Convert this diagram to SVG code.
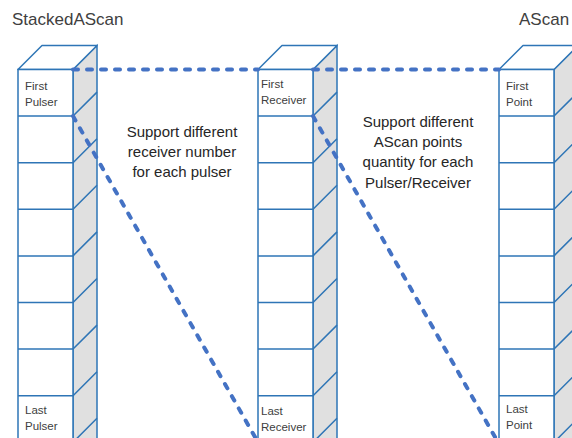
<svg xmlns="http://www.w3.org/2000/svg" width="572" height="438" viewBox="0 0 572 438">
<style>
text{font-family:"Liberation Sans",Arial,sans-serif;fill:#333}
.t{font-size:17px;fill:#404040}
.c{font-size:11.5px;fill:#404040}
.n{font-size:15px;text-anchor:middle;fill:#262626}
.side{fill:#e0e0e0;stroke:#2e75b6;stroke-width:1.5}
.top{fill:#fff;stroke:#2e75b6;stroke-width:1.5;stroke-linejoin:round}
.f{fill:#fff;stroke:#2e75b6;stroke-width:1.5}
.l{stroke:#2e75b6;stroke-width:1.5;fill:none}
.d{stroke:#4472c4;stroke-width:4;stroke-dasharray:5 9;stroke-linecap:round;fill:none}
</style>
<rect width="572" height="438" fill="#fff"/>
<text class="t" x="12" y="25">StackedAScan</text>
<text class="t" x="519" y="25">AScan</text>

<g id="stack-pulser">
<polygon class="side" points="73,69.5 97,45.5 97,460 73,460"/>
<polygon class="top" points="18,69.5 42,45.5 97,45.5 73,69.5"/>
<rect class="f" x="18" y="69.5" width="55" height="400"/>
<path class="l" d="M18,116.1H73L97,92.1M18,162.7H73L97,138.7M18,209.3H73L97,185.3M18,255.9H73L97,231.9M18,302.5H73L97,278.5M18,349.1H73L97,325.1M18,395.7H73L97,371.7M73,442.3L97,418.3"/>
<text class="c" x="25" y="90">First</text>
<text class="c" x="25" y="106">Pulser</text>
<text class="c" x="25" y="414">Last</text>
<text class="c" x="25" y="430">Pulser</text>
</g>

<g id="stack-receiver">
<polygon class="side" points="313,69.5 337,45.5 337,460 313,460"/>
<polygon class="top" points="258,69.5 282,45.5 337,45.5 313,69.5"/>
<rect class="f" x="258" y="69.5" width="55" height="400"/>
<path class="l" d="M258,116.1H313L337,92.1M258,162.7H313L337,138.7M258,209.3H313L337,185.3M258,255.9H313L337,231.9M258,302.5H313L337,278.5M258,349.1H313L337,325.1M258,395.7H313L337,371.7M313,442.3L337,418.3"/>
<text class="c" x="261" y="88">First</text>
<text class="c" x="261" y="104">Receiver</text>
<text class="c" x="261" y="415">Last</text>
<text class="c" x="261" y="431">Receiver</text>
</g>

<g id="stack-point">
<polygon class="side" points="554,69.5 578,45.5 578,460 554,460"/>
<polygon class="top" points="499,69.5 523,45.5 578,45.5 554,69.5"/>
<rect class="f" x="499" y="69.5" width="55" height="400"/>
<path class="l" d="M499,116.1H554L578,92.1M499,162.7H554L578,138.7M499,209.3H554L578,185.3M499,255.9H554L578,231.9M499,302.5H554L578,278.5M499,349.1H554L578,325.1M499,395.7H554L578,371.7M554,442.3L578,418.3"/>
<text class="c" x="506" y="90">First</text>
<text class="c" x="506" y="106">Point</text>
<text class="c" x="506" y="413">Last</text>
<text class="c" x="506" y="429">Point</text>
</g>

<g id="connectors">
<path class="d" d="M73,69.5H258"/>
<path class="d" d="M313,69.5H499"/>
<path class="d" d="M73,116.1L258,442.3"/>
<path class="d" d="M313,116.1L498,442.3"/>
</g>

<g id="notes">
<text class="n" x="182" y="137">Support different</text>
<text class="n" x="182" y="157">receiver number</text>
<text class="n" x="182" y="177">for each pulser</text>
<text class="n" x="418" y="127">Support different</text>
<text class="n" x="418" y="147">AScan points</text>
<text class="n" x="418" y="167">quantity for each</text>
<text class="n" x="418" y="188">Pulser/Receiver</text>
</g>
</svg>
